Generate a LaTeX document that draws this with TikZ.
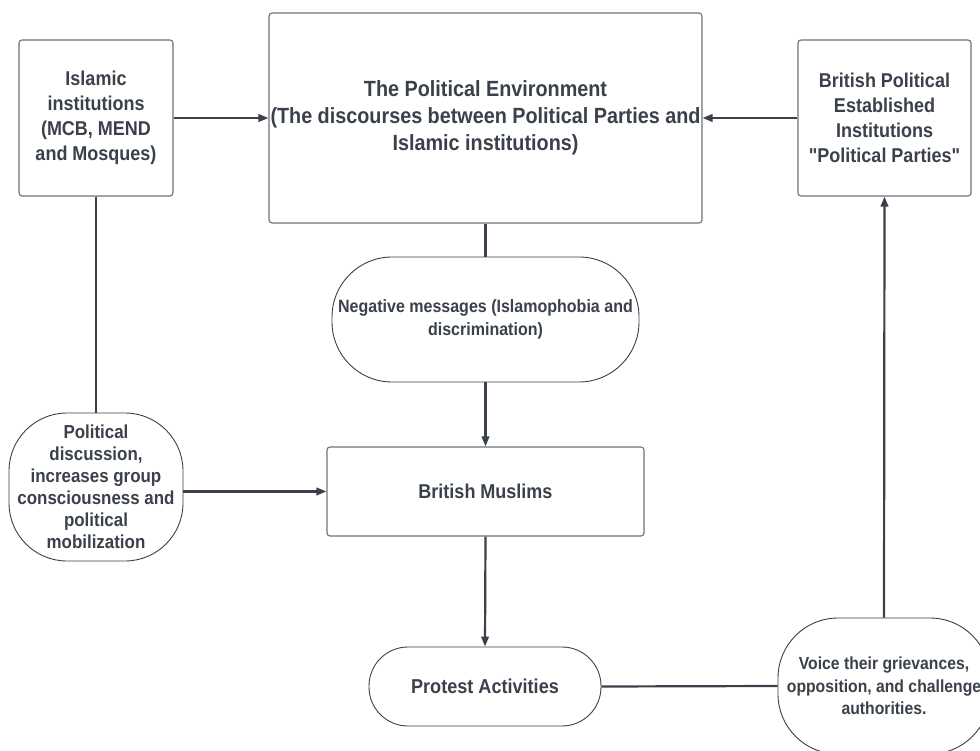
\documentclass[tikz,border=0pt]{standalone}
\usepackage{fontspec}
\setmainfont{Liberation Sans}[FakeStretch=0.9, Ligatures=TeXOff]
\usetikzlibrary{arrows.meta}
\definecolor{ink}{HTML}{3A414A}
\definecolor{rim}{HTML}{6E7278}
\tikzset{
  boxnode/.style={draw=rim, line width=1.1pt, rounded corners=3pt, fill=white, inner sep=0pt, align=center, text=ink, font=\bfseries},
  pillnode/.style={draw=ink, line width=0.9pt, fill=white, inner sep=0pt, align=center, text=ink, font=\bfseries},
  link/.style={draw=ink, line width=2.2pt},
  arr/.style={link, -{Triangle[length=10pt,width=7.5pt]}},
}
\begin{document}
\begin{tikzpicture}[x=1pt,y=-1pt]
\clip (0,0) rectangle (980,751);
\fill[white] (0,0) rectangle (980,751);

\node[boxnode, minimum width=154pt, minimum height=156pt,
  font=\bfseries\fontsize{20}{25}\selectfont] (isl) at (96,118)
  {Islamic\\institutions\\(MCB, MEND\\and Mosques)};
\node[boxnode, minimum width=433pt, minimum height=210pt,
  font=\bfseries\fontsize{22}{27}\selectfont] (env) at (485.5,118)
  {\raisebox{4pt}{\parbox{430pt}{\centering The Political Environment\\(The discourses between Political Parties and\\Islamic institutions)}}};
\node[boxnode, minimum width=173pt, minimum height=156pt,
  font=\bfseries\fontsize{20}{25}\selectfont] (brit) at (884.5,118)
  {British Political\\Established\\Institutions\\"Political Parties"};

\node[pillnode, rounded corners=60pt, minimum width=307pt, minimum height=125pt,
  font=\bfseries\fontsize{17.8}{23}\selectfont] (neg) at (485.5,319.5)
  {Negative messages (Islamophobia and\\discrimination)};

\node[boxnode, minimum width=317pt, minimum height=89pt,
  font=\bfseries\fontsize{20}{25}\selectfont] (bm) at (485.5,491.5)
  {British Muslims};

\node[pillnode, rounded corners=58pt, minimum width=174pt, minimum height=148pt,
  font=\bfseries\fontsize{18.8}{22}\selectfont] (pd) at (96,487)
  {Political\\discussion,\\increases group\\consciousness and\\political\\mobilization};

\node[pillnode, rounded corners=39pt, minimum width=232pt, minimum height=79pt,
  font=\bfseries\fontsize{20.1}{25}\selectfont] (prot) at (485,686.5)
  {Protest Activities};

\node[pillnode, rounded corners=60pt, minimum width=212pt, minimum height=136pt,
  font=\bfseries\fontsize{17.5}{22.5}\selectfont] (voice) at (884,686)
  {Voice their grievances,\\opposition, and challenge\\authorities.};

\draw[arr] (isl.east) -- (env.west);
\draw[arr] (brit.west) -- (env.east);
\draw[link] (env.south) -- (neg.north);
\draw[arr] (neg.south) -- (bm.north);
\draw[link] (isl.south) -- (pd.north);
\draw[arr] (pd.east |- bm.west) -- (bm.west);
\draw[arr] (bm.south) -- (prot.north);
\draw[link] (prot.east) -- (voice.west);
\draw[arr] (voice.north) -- (brit.south);
\end{tikzpicture}
\end{document}
